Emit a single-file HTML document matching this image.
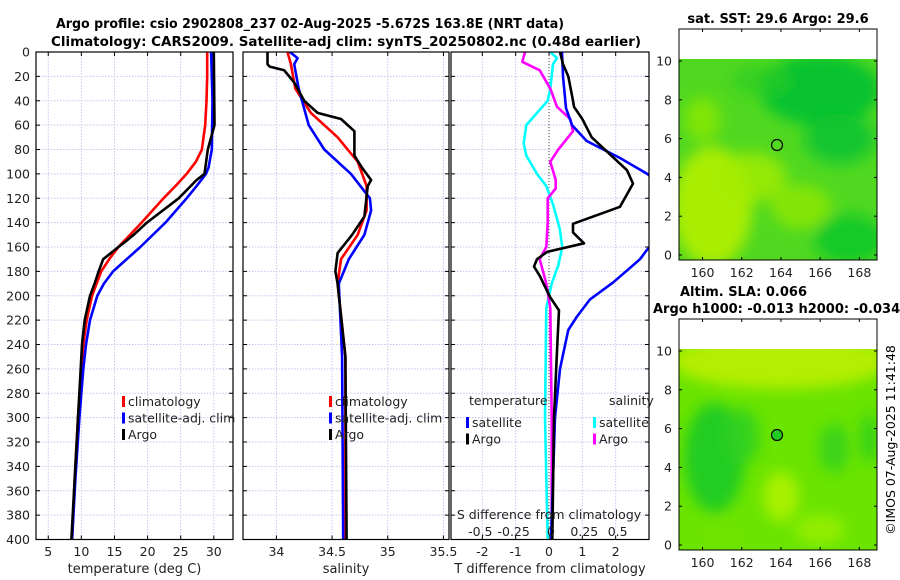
<!DOCTYPE html>
<html><head><meta charset="utf-8"><style>
body{margin:0;background:#fff;width:900px;height:580px;overflow:hidden}
svg{display:block;font-family:"DejaVu Sans","Liberation Sans",sans-serif}
</style></head><body>
<svg id="chart" width="900" height="580" viewBox="0 0 900 580" xmlns="http://www.w3.org/2000/svg">
<defs><filter id="soft" x="-20%" y="-20%" width="140%" height="140%"><feGaussianBlur stdDeviation="7"/></filter></defs>
<text x="310" y="28" text-anchor="middle" font-weight="bold" font-size="13" textLength="508" lengthAdjust="spacingAndGlyphs">Argo profile: csio 2902808_237 02-Aug-2025 -5.672S 163.8E (NRT data)</text>
<text x="346" y="46" text-anchor="middle" font-weight="bold" font-size="13" textLength="590" lengthAdjust="spacingAndGlyphs">Climatology: CARS2009. Satellite-adj clim: synTS_20250802.nc (0.48d earlier)</text>
<g id="panels"></g>
<g id="maps"></g>
<text transform="translate(895,440) rotate(-90)" text-anchor="middle" font-size="12.5">©IMOS 07-Aug-2025 11:41:48</text>
</svg>
<script>
// ---- data ----
const tClimDepth=[0,20,40,60,80,90,100,110,120,140,160,170,180,200,220,240,260,300,350,400];
const tClimVal=[29.0,29.0,28.9,28.7,28.2,27.3,25.9,24.2,22.4,19.1,15.6,14.2,13.0,11.6,10.8,10.3,10.0,9.5,9.0,8.6];
const tSatDepth=[0,40,80,95,100,110,120,140,160,180,190,200,220,240,260,300,350,400];
const tSatVal=[29.6,29.8,29.7,29.2,28.8,27.4,25.9,22.7,18.9,14.8,13.4,12.4,11.3,10.7,10.3,9.7,9.1,8.6];
const tArgoDepth=[0,60,80,100,105,120,140,145,150,155,160,170,180,190,200,220,240,260,300,350,400];
const tArgoVal=[30.0,30.1,29.1,28.6,27.4,24.7,19.9,18.9,17.9,16.8,15.6,13.3,12.6,12.0,11.3,10.5,10.1,9.9,9.5,9.0,8.5];
const sClimDepth=[0,10,30,50,70,90,110,130,150,170,190,250,400];
const sClimVal=[34.10,34.13,34.17,34.31,34.55,34.73,34.81,34.81,34.73,34.58,34.55,34.62,34.62];
const sSatDepth=[0,5,10,30,60,80,100,120,130,150,170,190,250,400];
const sSatVal=[34.12,34.19,34.16,34.20,34.29,34.43,34.67,34.84,34.85,34.79,34.65,34.56,34.59,34.60];
const sArgoDepth=[0,10,12,15,25,40,50,55,65,85,95,105,110,135,150,165,180,190,250,400];
const sArgoVal=[33.92,33.92,33.94,34.07,34.16,34.25,34.37,34.58,34.70,34.70,34.77,34.85,34.82,34.79,34.68,34.55,34.53,34.55,34.62,34.63];
const dTSatDepth=[0,20,46,60,73,87,100,115,135,155,162,170,189,203,217,228,260,300,400];
const dTSatVal=[0.39,0.42,0.51,0.69,1.13,2.13,2.95,3.6,3.8,3.3,2.95,2.73,1.93,1.23,0.84,0.58,0.33,0.18,0.06];
const dTArgoDepth=[0,10,20,40,45,55,70,84,97,108,127,141,148,157,164,170,176,184,201,212,240,300,400];
const dTArgoVal=[0.33,0.42,0.58,0.72,0.75,1.0,1.28,1.83,2.34,2.52,2.13,0.72,0.72,1.05,-0.06,-0.36,-0.45,-0.27,0.03,0.3,0.25,0.15,0.1];
const dSSatDepth=[0,5,10,30,40,50,60,75,85,100,110,125,145,160,175,190,210,300,400];
const dSSatVal=[0.01,0.06,0.03,0.01,-0.01,-0.09,-0.17,-0.19,-0.17,-0.09,-0.02,0.03,0.08,0.10,0.07,0.02,-0.02,-0.03,-0.01];
const dSArgoDepth=[0,8,15,30,45,55,65,80,90,105,112,120,140,160,170,190,210,300,400];
const dSArgoVal=[-0.18,-0.20,-0.07,0.01,0.06,0.16,0.18,0.07,0.01,0.05,0.05,-0.01,-0.01,-0.02,-0.07,-0.02,0.01,0.02,0.02];
const depthTicks=[0,20,40,60,80,100,120,140,160,180,200,220,240,260,280,300,320,340,360,380,400];
const tTicks=[5,10,15,20,25,30];
const sTicks=[34,34.5,35,35.5];
const dTTicks=[-2,-1,0,1,2];
const dSTicks=[-0.5,-0.25,0,0.25,0.5];
const mapLonTicks=[160,162,164,166,168];
const mapLatTicks=[0,2,4,6,8,10];

const NS="http://www.w3.org/2000/svg";
function mk(tag,attrs,parent,txt){const e=document.createElementNS(NS,tag);for(const k in attrs)e.setAttribute(k,attrs[k]);if(txt!==undefined)e.textContent=txt;parent.appendChild(e);return e;}
const Y0=52,Y1=539.5;
const yOf=d=>Y0+(d/400)*(Y1-Y0);
const root=document.getElementById('panels');

function panel(name,x0,x1,dmin,dmax,ticks,labelDepth,xlabel){
  const g=mk('g',{},root);
  
  
  const xs=v=>x0+(v-dmin)/(dmax-dmin)*(x1-x0);
  const clip=mk('clipPath',{id:'c'+name},g);mk('rect',{x:x0,y:Y0,width:x1-x0,height:Y1-Y0},clip);
  depthTicks.forEach(d=>{
    const l=mk('line',{x1:x0,x2:x1,y1:yOf(d),y2:yOf(d),stroke:'#c4c8ec','stroke-dasharray':'1.5,1.5','stroke-width':1},g);
    
    
    mk('line',{x1:x0,x2:x0+4,y1:yOf(d),y2:yOf(d),stroke:'#000'},g);
    mk('line',{x1:x1,x2:x1-4,y1:yOf(d),y2:yOf(d),stroke:'#000'},g);
    if(labelDepth){const t=mk('text',{x:x0-6,y:yOf(d)+4.5,'text-anchor':'end','font-size':12.5,fill:'#222'},g,String(d));
      
      }
  });
  ticks.forEach(v=>{
    const l=mk('line',{x1:xs(v),x2:xs(v),y1:Y0,y2:Y1,stroke:'#c4c8ec','stroke-dasharray':'1.5,1.5'},g);
    
    
    mk('line',{x1:xs(v),x2:xs(v),y1:Y0,y2:Y0+4,stroke:'#000'},g);
    mk('line',{x1:xs(v),x2:xs(v),y1:Y1,y2:Y1-4,stroke:'#000'},g);
    const t=mk('text',{x:xs(v),y:556,'text-anchor':'middle','font-size':12.5,fill:'#222'},g,String(v));
    
    
  });
  const xl=mk('text',{x:(x0+x1)/2,y:573,'text-anchor':'middle','font-size':13,fill:'#222'},g,xlabel);
  
  
  return {g,xs,clip:'url(#c'+name+')'};
}
function line(p,depths,vals,color,name,xs){
  const f=xs||p.xs;
  const pts=depths.map((d,i)=>f(vals[i]).toFixed(1)+','+yOf(d).toFixed(1)).join(' ');
  const pl=mk('polyline',{points:pts,fill:'none',stroke:color,'stroke-width':2.6,'stroke-linejoin':'round','clip-path':p.clip},p.g);
  
  
}
function frame(p,x0,x1){const r=mk('rect',{x:x0,y:Y0,width:x1-x0,height:Y1-Y0,fill:'none',stroke:'#000','stroke-width':1.2},p.g);
  
  }
function legend(p,x,y,items){
  items.forEach((it,i)=>{
    const yy=y+i*16.5;
    mk('rect',{x:x,y:yy-10,width:3,height:11,fill:it[1]},p.g);
    const t=mk('text',{x:x+6,y:yy,'font-size':12.5,fill:'#222'},p.g,it[0]);
    
    
  });
}
// temperature
const p1=panel('temperature-panel',36,233,3.15,32.9,tTicks,true,'temperature (deg C)');
line(p1,tClimDepth,tClimVal,'#f00','temp-climatology-line');
line(p1,tSatDepth,tSatVal,'#00f','temp-satellite-line');
line(p1,tArgoDepth,tArgoVal,'#000','temp-argo-line');
frame(p1,36,233);
legend(p1,122,406,[['climatology','#f00'],['satellite-adj. clim','#00f'],['Argo','#000']]);
// salinity
const p2=panel('salinity-panel',243,449,33.70,35.55,sTicks,false,'salinity');
line(p2,sClimDepth,sClimVal,'#f00','sal-climatology-line');
line(p2,sSatDepth,sSatVal,'#00f','sal-satellite-line');
line(p2,sArgoDepth,sArgoVal,'#000','sal-argo-line');
frame(p2,243,449);
legend(p2,329,406,[['climatology','#f00'],['satellite-adj. clim','#00f'],['Argo','#000']]);
// differences
const p3=panel('difference-panel',451,649,-2.94,3.0,dTTicks,false,'T difference from climatology');
const zx=p3.xs(0);
const zl=mk('line',{x1:zx,x2:zx,y1:Y0,y2:Y1,stroke:'#444','stroke-dasharray':'1,2'},p3.g);


const sx=v=>p3.xs(v*4);
line(p3,dSSatDepth,dSSatVal,'#0ff','sal-diff-satellite-line',sx);
line(p3,dSArgoDepth,dSArgoVal,'#f0f','sal-diff-argo-line',sx);
line(p3,dTSatDepth,dTSatVal,'#00f','temp-diff-satellite-line');
line(p3,dTArgoDepth,dTArgoVal,'#000','temp-diff-argo-line');
frame(p3,451,649);
let t=mk('text',{x:469,y:405,'font-size':12.5,fill:'#222'},p3.g,'temperature');


t=mk('text',{x:609,y:405,'font-size':12.5,fill:'#222'},p3.g,'salinity');


legend(p3,466,427,[['satellite','#00f'],['Argo','#000']]);
legend(p3,593,427,[['satellite','#0ff'],['Argo','#f0f']]);
t=mk('text',{x:549,y:519,'text-anchor':'middle','font-size':12.5,fill:'#222'},p3.g,'S difference from climatology');


dSTicks.forEach(v=>{
  const tt=mk('text',{x:sx(v)+(v<0?-2:2),y:536,'text-anchor':'middle','font-size':12.5,fill:'#222'},p3.g,String(v));
  
  
});

// ---- maps ----
const M=document.getElementById('maps');
function map(name,fy0,fy1,cy0,title,blobs,base){
  const g=mk('g',{},M);
  
  
  const fx0=679,fx1=877;
  const lon=v=>fx0+(v-158.8)/(168.9-158.8)*(fx1-fx0);
  const lat0=fy1-5, lat10=cy0+2;
  const lat=v=>lat0+(v/10)*(lat10-lat0);
  const cid='clip'+name;
  const cp=mk('clipPath',{id:cid},g);mk('rect',{x:fx0,y:cy0,width:fx1-fx0,height:fy1-cy0},cp);
  const fg=mk('g',{'clip-path':'url(#'+cid+')'},g);
  mk('rect',{x:fx0,y:cy0,width:fx1-fx0,height:fy1-cy0,fill:base},fg);
  const bg=mk('g',{filter:'url(#soft)'},fg);
  blobs.forEach(b=>{const e=mk('ellipse',{cx:lon(b[0]),cy:lat(b[1]),rx:b[2],ry:b[3],fill:b[4],opacity:b[5]||1},bg);
    
    });
  const c=mk('circle',{cx:lon(163.8),cy:lat(5.67),r:5.5,fill:name==='sla-map'?'#22cc22':'none',stroke:'#000','stroke-width':1.2},g);
  
  
  const fr=mk('rect',{x:fx0,y:fy0,width:fx1-fx0,height:fy1-fy0,fill:'none',stroke:'#000','stroke-width':1},g);
  
  
  mapLonTicks.forEach(v=>{
    mk('line',{x1:lon(v),x2:lon(v),y1:fy0,y2:fy0+3,stroke:'#000'},g);
    mk('line',{x1:lon(v),x2:lon(v),y1:fy1,y2:fy1-3,stroke:'#000'},g);
    const tt=mk('text',{x:lon(v),y:fy1+17,'text-anchor':'middle','font-size':12.5,fill:'#222'},g,String(v));
    
    
  });
  mapLatTicks.forEach(v=>{
    mk('line',{x1:fx0,x2:fx0+3,y1:lat(v),y2:lat(v),stroke:'#000'},g);
    mk('line',{x1:fx1,x2:fx1-3,y1:lat(v),y2:lat(v),stroke:'#000'},g);
    const tt=mk('text',{x:fx0-7,y:lat(v)+4.5,'text-anchor':'end','font-size':12.5,fill:'#222'},g,String(v));
    
    
  });
  title.forEach(tl=>{const tt=mk('text',{x:tl[0],y:tl[1],'text-anchor':tl[2],'font-weight':'bold','font-size':13},g,tl[3]);
    
    });
}
map('sst-map',29,260,59,[[778,23,'middle','sat. SST: 29.6 Argo: 29.6']],[
  [160.5,2.5,40,60,'#b4f000',0.9],[162.5,4,35,25,'#a4ec00',0.8],[160,7,18,22,'#8ce800',0.8],
  [165,2.5,30,22,'#90e800',0.8],[167.5,0.8,35,25,'#10c828',0.9],[166,8.5,60,35,'#00c030',0.9],
  [167,6,35,25,'#08c430',0.9],[163,9,30,15,'#28cc24',0.7]
],'#50d820');
map('sla-map',319,550,349,[[680,296,'start','Altim. SLA: 0.066'],[653,313,'start','Argo h1000: -0.013 h2000: -0.034']],[
  [164,9.5,110,28,'#bcf000',0.9],[160.6,4.5,30,55,'#20cc20',1],[162,5.6,18,28,'#30d020',0.9],
  [164,2.5,18,25,'#b8f400',0.8],[166.7,5,15,25,'#30d020',0.8],[168.5,5.5,8,25,'#20cc20',0.8],
  [161,0.5,25,15,'#70e400',0.8],[166,0.8,25,15,'#9cf000',0.8]
],'#6ae400');
</script>
</body></html>
